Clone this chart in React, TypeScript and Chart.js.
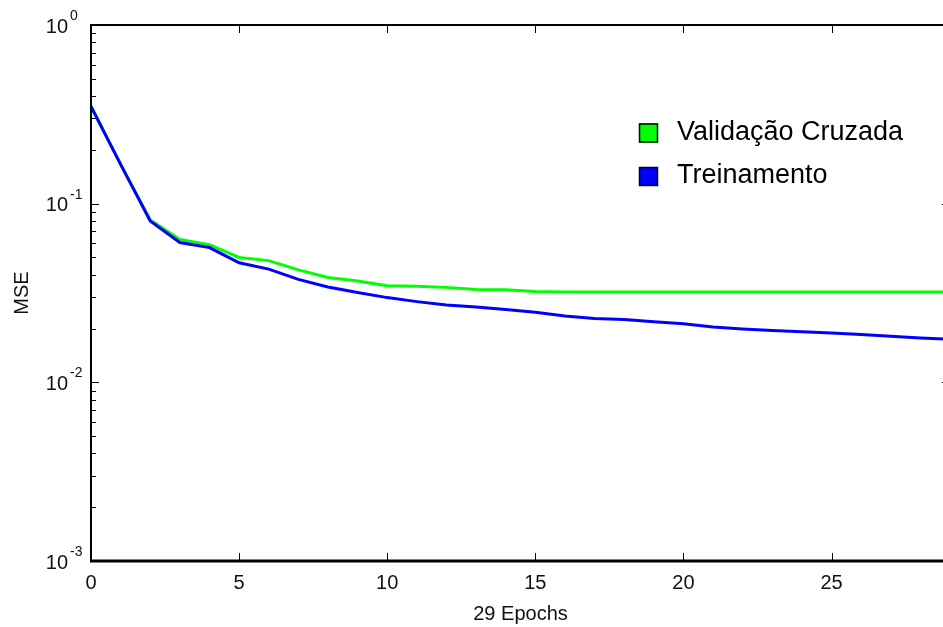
import React, { useEffect, useRef } from 'react';
import { Chart, registerables } from 'chart.js';

Chart.register(...registerables);

// ---- data ----
const epochs = [0, 1, 2, 3, 4, 5, 6, 7, 8, 9, 10, 11, 12, 13, 14, 15, 16, 17, 18, 19, 20, 21, 22, 23, 24, 25, 26, 27, 28, 29];
const validacaoCruzada = [0.35, 0.166, 0.081, 0.063, 0.059, 0.050, 0.048, 0.0426, 0.0386, 0.0369, 0.0347, 0.0345, 0.0340, 0.0331, 0.0330, 0.0322, 0.0320, 0.0320, 0.0320, 0.0320, 0.0320, 0.0320, 0.0320, 0.0320, 0.0320, 0.0320, 0.0320, 0.0320, 0.0320, 0.0320];
const treinamento = [0.35, 0.166, 0.080, 0.0606, 0.0568, 0.0467, 0.043, 0.0377, 0.0342, 0.0318, 0.0298, 0.0283, 0.0271, 0.0264, 0.0256, 0.0247, 0.0235, 0.0228, 0.0225, 0.0218, 0.0213, 0.0204, 0.0199, 0.0195, 0.0192, 0.0189, 0.0185, 0.0181, 0.0177, 0.0174];
const seriesLabels = ['Validação Cruzada', 'Treinamento'];
const seriesColors = ['#00ff00', '#0000ff'];
const xTickValues = [0, 5, 10, 15, 20, 25];
const yMajorValues = [0.001, 0.01, 0.1, 1];
const yExponentLabels = ['-3', '-2', '-1', '0'];
const yMinorMultipliers = [2, 3, 4, 5, 6, 7, 8, 9];
const xTitle = '29 Epochs';
const yTitle = 'MSE';
const xMin = 0;
const xMax = 29;
const yMin = 0.001;
const yMax = 1;

const FONT = "'Liberation Sans', Arial, Helvetica, sans-serif";

const framePlugin = {
  id: 'matlabFrame',
  afterDraw(chart: any) {
    const { ctx, chartArea } = chart;
    const xs = chart.scales.x;
    const ys = chart.scales.y;
    const { left, right, top, bottom } = chartArea;
    ctx.save();
    ctx.strokeStyle = '#000';
    // frame
    ctx.lineWidth = 2;
    ctx.beginPath();
    ctx.moveTo(left, top); ctx.lineTo(right, top);
    ctx.moveTo(right, top); ctx.lineTo(right, bottom);
    ctx.moveTo(left, top - 1); ctx.lineTo(left, bottom);
    ctx.stroke();
    ctx.lineWidth = 3;
    ctx.beginPath();
    ctx.moveTo(left - 1, bottom); ctx.lineTo(right, bottom);
    ctx.stroke();
    // x ticks (bottom + top)
    ctx.lineWidth = 1;
    ctx.beginPath();
    xTickValues.forEach((v) => {
      const px = Math.round(xs.getPixelForValue(v)) + 0.5;
      ctx.moveTo(px, bottom); ctx.lineTo(px, bottom - 8);
      ctx.moveTo(px, top); ctx.lineTo(px, top + 8);
    });
    // y ticks (left + right)
    yMajorValues.forEach((v, i) => {
      const py = Math.round(ys.getPixelForValue(v)) + 0.5;
      ctx.moveTo(left, py); ctx.lineTo(left + 8, py);
      ctx.moveTo(right, py); ctx.lineTo(right - 8, py);
      if (i < yMajorValues.length - 1) {
        yMinorMultipliers.forEach((m) => {
          const pm = Math.round(ys.getPixelForValue(v * m)) + 0.5;
          ctx.moveTo(left, pm); ctx.lineTo(left + 5, pm);
          ctx.moveTo(right, pm); ctx.lineTo(right - 5, pm);
        });
      }
    });
    ctx.stroke();
    // y labels 10^k
    ctx.fillStyle = '#111';
    yMajorValues.forEach((v, i) => {
      const py = ys.getPixelForValue(v);
      ctx.font = `20px ${FONT}`;
      ctx.textAlign = 'right';
      ctx.textBaseline = 'alphabetic';
      ctx.fillText('10', left - 23, py + 7.5);
      ctx.font = `14px ${FONT}`;
      ctx.textAlign = 'left';
      ctx.fillText(yExponentLabels[i], left - 21, py - 5);
    });
    // legend
    const lx = 639;
    const ly = 123.5;
    const gap = 43.5;
    chart.data.datasets.forEach((ds: any, i: number) => {
      const by = ly + i * gap;
      ctx.fillStyle = ds.borderColor;
      ctx.fillRect(lx, by, 19, 19);
      ctx.lineWidth = 1.5;
      ctx.strokeStyle = '#000';
      ctx.strokeRect(lx + 0.5, by + 0.5, 18, 18);
      ctx.fillStyle = '#000';
      ctx.font = `27px ${FONT}`;
      ctx.textAlign = 'left';
      ctx.textBaseline = 'alphabetic';
      ctx.fillText(ds.label, 677, by + 9.5 + 6.5);
    });
    ctx.restore();
  },
};

export default function App() {
  const ref = useRef<HTMLCanvasElement | null>(null);
  useEffect(() => {
    if (!ref.current) return;
    const chart = new Chart(ref.current, {
      type: 'line',
      data: {
        datasets: [
          {
            label: seriesLabels[0],
            data: epochs.map((e, i) => ({ x: e, y: validacaoCruzada[i] })),
            borderColor: seriesColors[0],
            backgroundColor: seriesColors[0],
            borderWidth: 3,
            pointRadius: 0,
            tension: 0,
            order: 1,
          },
          {
            label: seriesLabels[1],
            data: epochs.map((e, i) => ({ x: e, y: treinamento[i] })),
            borderColor: seriesColors[1],
            backgroundColor: seriesColors[1],
            borderWidth: 3,
            pointRadius: 0,
            tension: 0,
            order: 0,
          },
        ],
      },
      options: {
        responsive: false,
        animation: false,
        devicePixelRatio: 1,
        layout: { padding: { top: 25, right: 10, left: 0, bottom: 0 } },
        plugins: { legend: { display: false }, tooltip: { enabled: false } },
        scales: {
          x: {
            type: 'linear',
            min: xMin,
            max: xMax,
            grid: { display: false, drawTicks: false },
            border: { display: false },
            ticks: {
              padding: 10,
              color: '#111',
              font: { family: FONT, size: 20 },
              maxRotation: 0,
              autoSkip: false,
            },
            afterBuildTicks: (s: any) => { s.ticks = xTickValues.map((v) => ({ value: v })); },
            afterFit: (s: any) => { s.height = 66; },
            title: {
              display: true,
              text: xTitle,
              color: '#111',
              font: { family: FONT, size: 20 },
              padding: { top: 0, bottom: 1 },
            },
          },
          y: {
            type: 'logarithmic',
            min: yMin,
            max: yMax,
            grid: { display: false, drawTicks: false },
            border: { display: false },
            ticks: { display: false },
            afterFit: (s: any) => { s.width = 91; },
            title: {
              display: true,
              text: yTitle,
              color: '#111',
              font: { family: FONT, size: 20 },
              padding: { top: 10, bottom: 0 },
            },
          },
        },
      },
      plugins: [framePlugin],
    } as any);
    return () => chart.destroy();
  }, []);
  return (
    <div style={{ position: 'fixed', left: 0, top: 0, width: 943, height: 627, overflow: 'hidden', background: '#fff' }}>
      <canvas ref={ref} width={960} height={627} style={{ display: 'block', width: 960, height: 627 }} />
    </div>
  );
}
